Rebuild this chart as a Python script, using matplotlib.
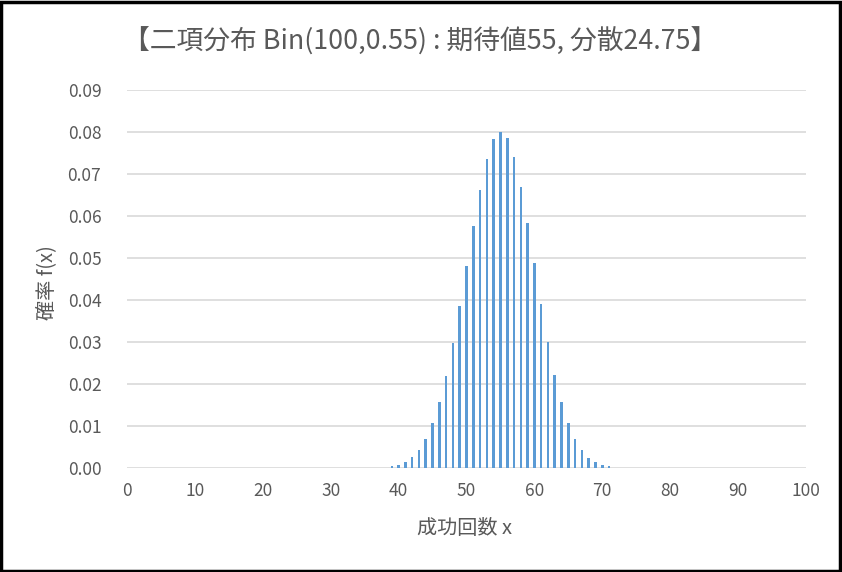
import matplotlib

matplotlib.use("Agg")
import matplotlib.pyplot as plt
from matplotlib.patches import Rectangle

# values (zero / invisible elsewhere)
x_vals = list(range(39, 72))
probs = [
    0.0004, 0.0008, 0.0015, 0.0026, 0.0044, 0.0070, 0.0107,
    0.0157, 0.0220, 0.0297, 0.0385, 0.0481, 0.0576, 0.0663, 0.0735,
    0.0783, 0.0800, 0.0786, 0.0741, 0.0670, 0.0583, 0.0487, 0.0391,
    0.0301, 0.0222, 0.0157, 0.0106, 0.0069, 0.0043, 0.0025, 0.0014,
    0.0007, 0.0004,
]
x_ticks = list(range(0, 101, 10))
y_ticks = [i / 100 for i in range(0, 10)]

title = "【二項分布 Bin(100,0.55) : 期待値55, 分散24.75】"
xlabel = "成功回数 x"
ylabel = "確率 f(x)"

plt.rcParams["font.family"] = ["Noto Sans CJK JP", "DejaVu Sans"]
text_col = "#595959"

fig = plt.figure(figsize=(8.42, 5.72), dpi=100)
ax = fig.add_axes([127 / 842, 1 - 468 / 572, (806 - 127) / 842, (468 - 90) / 572])

ax.bar(x_vals, probs, width=0.38, color="#5B9BD5", zorder=3)

ax.set_xlim(0, 100)
ax.set_ylim(0, 0.09)
ax.set_xticks(x_ticks)
ax.set_yticks(y_ticks)
ax.set_yticklabels([f"{v:.2f}" for v in y_ticks])
ax.yaxis.grid(True, color="#D9D9D9", lw=1.2, zorder=0)
ax.tick_params(length=0, colors=text_col, labelsize=12.5)
ax.tick_params(axis="y", pad=18.5)
ax.tick_params(axis="x", pad=10)
for s in ax.spines.values():
    s.set_visible(False)

fig.text(420 / 842, 1 - 42 / 572, title, ha="center", va="center", fontsize=19.3, color=text_col)
fig.text(465 / 842, 1 - 528 / 572, xlabel, ha="center", va="center", fontsize=14.5, color=text_col)
fig.text(47 / 842, 1 - 283 / 572, ylabel, ha="center", va="center", rotation=90,
         fontsize=14.5, color=text_col)

fig.patches.append(Rectangle((0.001, 0.002), 0.997, 0.995, transform=fig.transFigure,
                             fill=False, edgecolor="black", lw=2.5))

fig.savefig("out.png", dpi=100)
